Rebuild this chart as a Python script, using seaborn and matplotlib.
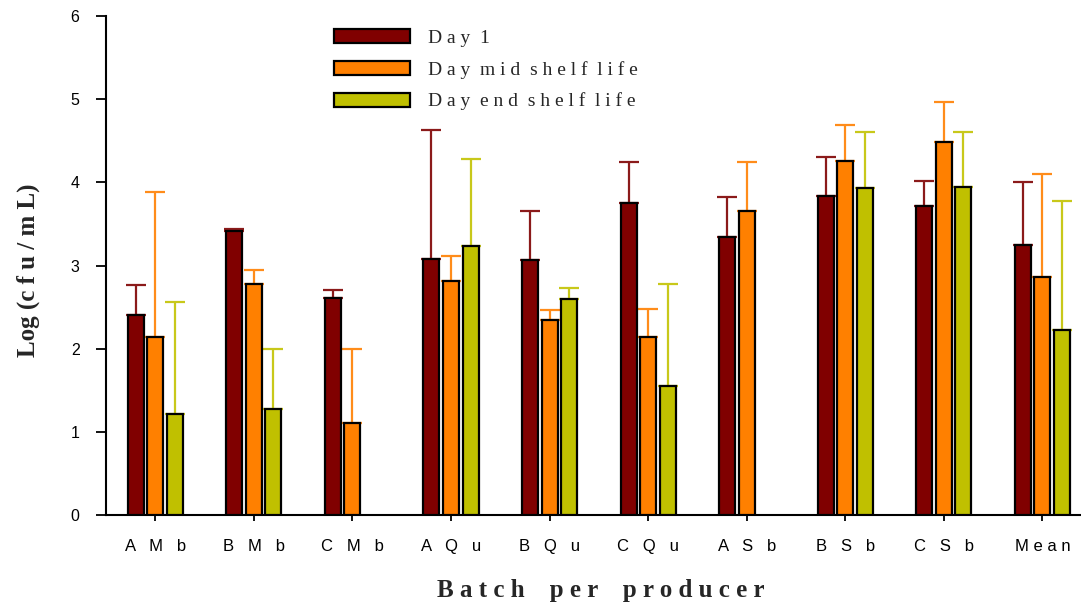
import matplotlib
matplotlib.use("Agg")
import matplotlib.pyplot as plt
import seaborn as sns
import numpy as np
import pandas as pd
from matplotlib.patches import Patch

# ---------------- data ----------------
batches = ["A   M   b", "B   M   b", "C   M   b", "A   Q   u", "B   Q   u",
           "C   Q   u", "A   S   b", "B   S   b", "C   S   b", "M e a n"]
series = ["D a y  1", "D a y  m i d  s h e l f  l i f e", "D a y  e n d  s h e l f  l i f e"]

day1_mean = [2.40, 3.42, 2.61, 3.08, 3.07, 3.75, 3.34, 3.84, 3.72, 3.25]
day1_top  = [2.77, 3.44, 2.71, 4.63, 3.65, 4.24, 3.82, 4.31, 4.02, 4.00]
mid_mean  = [2.14, 2.78, 1.11, 2.81, 2.34, 2.14, 3.66, 4.26, 4.48, 2.86]
mid_top   = [3.88, 2.94, 2.00, 3.12, 2.46, 2.48, 4.24, 4.69, 4.96, 4.10]
end_mean  = [1.21, 1.27, np.nan, 3.23, 2.60, 1.55, np.nan, 3.93, 3.94, 2.22]
end_top   = [2.56, 2.00, np.nan, 4.28, 2.73, 2.78, np.nan, 4.61, 4.61, 3.78]

bar_colors = ["#800000", "#FF8000", "#C0C000"]
err_colors = ["#8B1A1A", "#FF8C1A", "#C8C81A"]

means = [day1_mean, mid_mean, end_mean]
tops = [day1_top, mid_top, end_top]

rows = []
for s, m in zip(series, means):
    for b, v in zip(batches, m):
        rows.append({"batch": b, "series": s, "value": v})
df = pd.DataFrame(rows)

# ---------------- figure ----------------
sns.set_style("ticks")
fig = plt.figure(figsize=(10.81, 6.03), dpi=100)
ax = fig.add_axes([106 / 1081, 88 / 603, (1081 - 106) / 1081, (515 - 16) / 603])

total_w = 0.594
sns.barplot(data=df, x="batch", y="value", hue="series", order=batches,
            hue_order=series, palette=bar_colors, saturation=1,
            width=total_w, gap=0.18,
            edgecolor="black", linewidth=1.6, errorbar=None, legend=False,
            ax=ax, zorder=3)

step = total_w / 3
xs = np.arange(len(batches))
for j, (m, t, c) in enumerate(zip(means, tops, err_colors)):
    m = np.array(m, dtype=float)
    t = np.array(t, dtype=float)
    ok = ~np.isnan(m)
    up = t[ok] - m[ok]
    ax.errorbar(xs[ok] + (j - 1) * step, m[ok], yerr=[np.zeros_like(up), up],
                fmt="none", ecolor=c, elinewidth=1.6, capsize=7.5,
                capthick=1.6, zorder=2)

ax.set_ylim(0, 6)
ax.set_xlim(-0.5, (1081 - 155) / 98.6)
ax.set_yticks(range(0, 7))
sns.despine(ax=ax)
for sp in ["left", "bottom"]:
    ax.spines[sp].set_linewidth(1.5)
    ax.spines[sp].set_color("black")

ax.tick_params(axis="y", length=7, width=1.3, pad=12, labelsize=11.5,
               colors="black")
ax.tick_params(axis="x", length=4, width=1.3, pad=13, labelsize=12,
               colors="black")
for lab in ax.get_xticklabels() + ax.get_yticklabels():
    lab.set_fontfamily("Liberation Sans")

ax.set_ylabel("Log (c f u / m L)", fontfamily="Liberation Serif",
              fontweight="bold", fontsize=18)
ax.yaxis.set_label_coords(-0.068, 0.49)
ax.set_xlabel("B a t c h    p e r    p r o d u c e r",
              fontfamily="Liberation Serif", fontweight="bold", fontsize=18)
ax.xaxis.set_label_coords(0.507, -0.128)

handles = [Patch(facecolor=c, edgecolor="black", linewidth=1.6)
           for c in bar_colors]
fs = 14
fs_px = fs * 100 / 72
leg = ax.legend(handles, series, loc="upper left",
                bbox_to_anchor=(334 / 1081, 1 - 29 / 603),
                bbox_transform=fig.transFigure, frameon=False,
                prop={"family": "Liberation Serif", "size": fs},
                handlelength=76 / fs_px, handleheight=14 / fs_px,
                handletextpad=18 / fs_px, labelspacing=0.72,
                borderpad=0, borderaxespad=0)

fig.savefig("out.png", dpi=100)
